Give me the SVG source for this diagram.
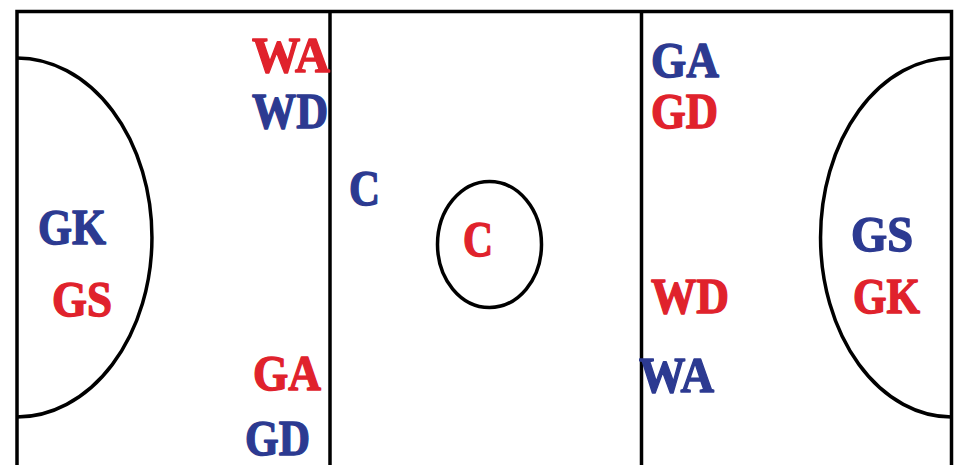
<svg xmlns="http://www.w3.org/2000/svg" width="957" height="465" viewBox="0 0 957 465">
<style>
.ln{fill:none;stroke:#000;stroke-width:3.5}
.t{font-family:"Liberation Serif","DejaVu Serif",serif;font-weight:bold;font-size:50px;stroke-width:1.4;stroke-linejoin:round}
.r{fill:#E0222C;stroke:#E0222C}
.b{fill:#2C3A91;stroke:#2C3A91}
</style>
<rect width="957" height="465" fill="#fff"/>
<g id="court">
<path class="ln" d="M17,470 V11.5 H951.5 V470"/>
<line class="ln" x1="330" y1="11.5" x2="330" y2="470"/>
<line class="ln" x1="641.5" y1="11.5" x2="641.5" y2="470"/>
<path class="ln" d="M17,58 A135,179.5 0 0 1 17,417"/>
<path class="ln" d="M951.5,58 A131,179.5 0 0 0 951.5,417"/>
<ellipse class="ln" cx="489.5" cy="244.5" rx="52" ry="63"/>
</g>
<g id="labels">
<text class="t r" x="252" y="72" textLength="78" lengthAdjust="spacingAndGlyphs">WA</text>
<text class="t b" x="252" y="128" textLength="76" lengthAdjust="spacingAndGlyphs">WD</text>
<text class="t b" x="651" y="77" textLength="68" lengthAdjust="spacingAndGlyphs">GA</text>
<text class="t r" x="651" y="128" textLength="67" lengthAdjust="spacingAndGlyphs">GD</text>
<text class="t b" x="349" y="205" textLength="31" lengthAdjust="spacingAndGlyphs">C</text>
<text class="t r" x="463" y="256" textLength="30" lengthAdjust="spacingAndGlyphs">C</text>
<text class="t b" x="38" y="244" textLength="68" lengthAdjust="spacingAndGlyphs">GK</text>
<text class="t r" x="52" y="316" textLength="60" lengthAdjust="spacingAndGlyphs">GS</text>
<text class="t b" x="851" y="251" textLength="62" lengthAdjust="spacingAndGlyphs">GS</text>
<text class="t r" x="853" y="313" textLength="67" lengthAdjust="spacingAndGlyphs">GK</text>
<text class="t r" x="651" y="313" textLength="78" lengthAdjust="spacingAndGlyphs">WD</text>
<text class="t b" x="639" y="392" textLength="75" lengthAdjust="spacingAndGlyphs">WA</text>
<text class="t r" x="253" y="390" textLength="68" lengthAdjust="spacingAndGlyphs">GA</text>
<text class="t b" x="245" y="455" textLength="65" lengthAdjust="spacingAndGlyphs">GD</text>
</g>
</svg>
